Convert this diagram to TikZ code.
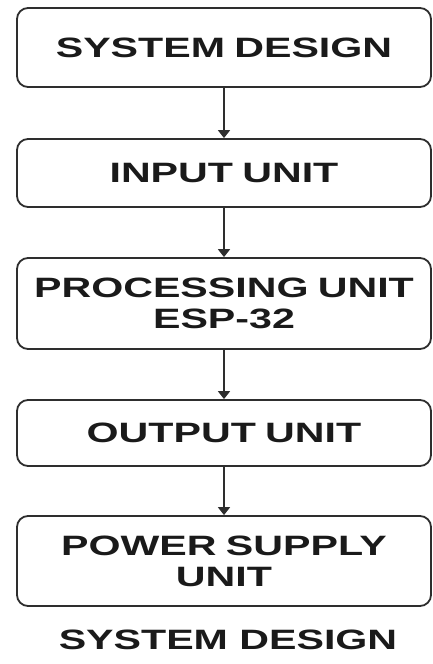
\documentclass[tikz,border=0pt]{standalone}
\usepackage{fontspec}
\usepackage{tikz}
\usetikzlibrary{arrows.meta}
\newfontfamily\blockfont[FakeStretch=1.47]{Liberation Sans}
\definecolor{edgegray}{HTML}{2E2E2E}
\definecolor{inkblack}{HTML}{1A1A1A}

\begin{document}
\begin{tikzpicture}[x=1pt, y=-1pt,
		block/.style = {draw = edgegray, line width = 1.8pt, rounded corners = 11pt,
			minimum width = 414pt, inner sep = 0pt, align = center, text width = 404pt,
			text = inkblack, font = \blockfont\bfseries\fontsize{28}{31}\selectfont},
		flow/.style = {-{Triangle[length = 8pt, width = 12pt]}, line width = 1.8pt, draw = edgegray}]
	\useasboundingbox (0,0) rectangle (432,664);
	
	\def\cx{224};
	
	\node [block, minimum height = 79pt] (design) at (\cx,47.5) {SYSTEM DESIGN};
	\node [block, minimum height = 68pt] (input) at (\cx,173) {INPUT UNIT};
	\node [block, minimum height = 91pt] (proc) at (\cx,303.5) {PROCESSING UNIT\\ESP-32};
	\node [block, minimum height = 66pt] (output) at (\cx,433) {OUTPUT UNIT};
	\node [block, minimum height = 90pt] (power) at (\cx,561) {POWER SUPPLY\\UNIT};
	
	\draw [flow] (design) -- (input);
	\draw [flow] (input) -- (proc);
	\draw [flow] (proc) -- (output);
	\draw [flow] (output) -- (power);
	
	\node [text = inkblack, font = \blockfont\bfseries\fontsize{28}{31}\selectfont] (caption) at (228,640) {SYSTEM DESIGN};
\end{tikzpicture}
\end{document}
